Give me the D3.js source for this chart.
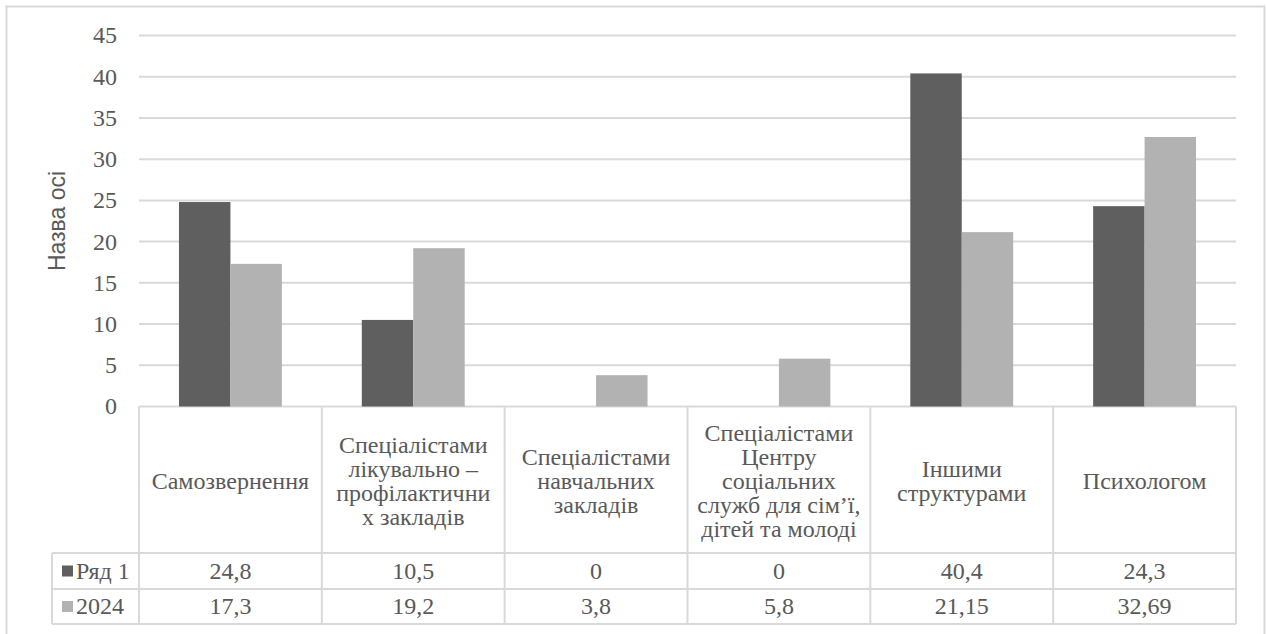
<!DOCTYPE html>
<html>
<head>
<meta charset="utf-8">
<script src="https://cdn.jsdelivr.net/npm/d3@7"></script>
</head>
<body style="margin:0">
<svg id="chart" width="1267" height="634" style="display:block"></svg>
<script>
// Categories (line breaks as shown in the data-table header)
const categories = [
  "Самозвернення",
  "Спеціалістами\nлікувально –\nпрофілактични\nх закладів",
  "Спеціалістами\nнавчальних\nзакладів",
  "Спеціалістами\nЦентру\nсоціальних\nслужб для сім’ї,\nдітей та молоді",
  "Іншими\nструктурами",
  "Психологом"
];
const seriesNames = ["Ряд 1", "2024"];
const series1 = [24.8, 10.5, 0, 0, 40.4, 24.3];
const series2 = [17.3, 19.2, 3.8, 5.8, 21.15, 32.69];
const yTicks = [0, 5, 10, 15, 20, 25, 30, 35, 40, 45];
const axisTitle = "Назва осі";

const colors = ["#5f5f5f", "#b2b2b2"];
const gridColor = "#d9d9d9";
const textColor = "#595959";

const svg = d3.select("#chart");

// table and axis labels use a Times-style serif face
function serifText(sel) {
  return sel.attr("font-family", "Liberation Serif").attr("font-size", 24).attr("fill", textColor);
}

// layout
const plotLeft = 139, plotRight = 1236;
const plotTop = 35.5, plotBottom = 406.5;
const headerBottom = 553, row1Bottom = 589, row2Bottom = 624;
const tableLeft = 52;

// outer frame
svg.append("rect")
  .attr("x", 6.5).attr("y", 6.5)
  .attr("width", 1258).attr("height", 700)
  .attr("fill", "none").attr("stroke", gridColor).attr("stroke-width", 2);

const x0 = d3.scaleBand().domain(d3.range(categories.length))
  .range([plotLeft, plotRight]).paddingInner(0).paddingOuter(0);
const x1 = d3.scaleBand().domain([0, 1])
  .range([0, x0.bandwidth()]).paddingInner(0).paddingOuter(0.777);
const y = d3.scaleLinear().domain([0, 45]).range([plotBottom, plotTop]);

// gridlines
svg.append("g").selectAll("line").data(yTicks).join("line")
  .attr("x1", plotLeft).attr("x2", plotRight)
  .attr("y1", d => y(d)).attr("y2", d => y(d))
  .attr("stroke", gridColor).attr("stroke-width", 2);

// y tick labels
svg.append("g").selectAll("text").data(yTicks).join("text")
  .call(serifText)
  .attr("x", 117).attr("y", d => y(d))
  .attr("dy", "0.33em")
  .attr("text-anchor", "end")
  .text(d => d);

// axis title
svg.append("text")
  .attr("font-family", "Liberation Sans").attr("font-size", 23).attr("fill", textColor)
  .attr("transform", `translate(65,221) rotate(-90)`)
  .attr("text-anchor", "middle")
  .text(axisTitle);

// bars
const allSeries = [series1, series2];
const bars = svg.append("g");
allSeries.forEach((vals, si) => {
  bars.selectAll(null).data(vals).join("rect")
    .attr("x", (d, i) => x0(i) + x1(si))
    .attr("width", x1.bandwidth())
    .attr("y", d => y(d))
    .attr("height", d => y(0) - y(d))
    .attr("fill", colors[si]);
});

// data table grid
const tbl = svg.append("g").attr("stroke", gridColor).attr("stroke-width", 2);
const bounds = d3.range(categories.length + 1).map(i => i < categories.length ? x0(i) : plotRight);
bounds.forEach(bx => {
  tbl.append("line").attr("x1", bx).attr("x2", bx)
    .attr("y1", plotBottom).attr("y2", row2Bottom);
});
tbl.append("line").attr("x1", tableLeft).attr("x2", tableLeft)
  .attr("y1", headerBottom).attr("y2", row2Bottom);
[headerBottom, row1Bottom, row2Bottom].forEach(ry => {
  tbl.append("line").attr("x1", tableLeft).attr("x2", plotRight)
    .attr("y1", ry).attr("y2", ry);
});

// header text
const lineH = 24;
const headCenter = (plotBottom + headerBottom) / 2 + 1;
categories.forEach((c, i) => {
  const lines = c.split("\n");
  const t = svg.append("text").call(serifText)
    .attr("text-anchor", "middle");
  lines.forEach((ln, k) => {
    t.append("tspan")
      .attr("x", x0(i) + x0.bandwidth() / 2)
      .attr("y", headCenter + (k - (lines.length - 1) / 2) * lineH)
      .attr("dy", "0.33em")
      .text(ln);
  });
});

// value rows with legend keys
const fmt = v => String(v).replace(".", ",");
const rowCenters = [(headerBottom + row1Bottom) / 2, (row1Bottom + row2Bottom) / 2];
allSeries.forEach((vals, si) => {
  const cy = rowCenters[si];
  svg.append("rect")
    .attr("x", 62).attr("y", cy - 5.5)
    .attr("width", 11).attr("height", 11)
    .attr("fill", colors[si]);
  svg.append("text").call(serifText)
    .attr("x", 76).attr("y", cy).attr("dy", "0.33em")
    .text(seriesNames[si]);
  svg.append("g").selectAll("text").data(vals).join("text")
    .call(serifText)
    .attr("x", (d, i) => x0(i) + x0.bandwidth() / 2)
    .attr("y", cy).attr("dy", "0.33em")
    .attr("text-anchor", "middle")
    .text(d => fmt(d));
});
</script>
</body>
</html>
